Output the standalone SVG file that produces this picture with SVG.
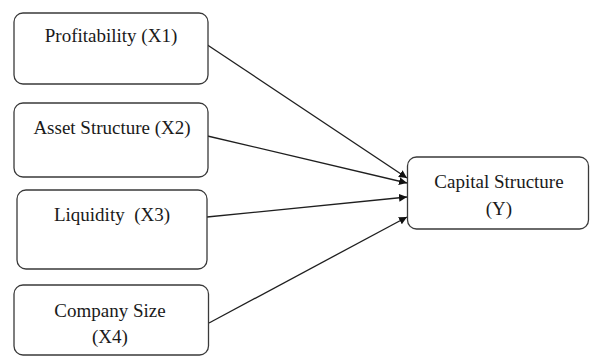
<svg xmlns="http://www.w3.org/2000/svg" width="590" height="356" viewBox="0 0 590 356">
  <style>
    .box { fill: #ffffff; stroke: #3a3a3a; stroke-width: 1.3; }
    .lbl { font-family: 'Liberation Serif', 'Times New Roman', Times, serif; font-size: 19px; fill: #1a1a1a; text-anchor: middle; }
    .link { stroke: #1f1f1f; stroke-width: 1.3; fill: none; marker-end: url(#head); }
  </style>
  <defs>
    <marker id="head" viewBox="0 0 10 10" refX="10" refY="5" markerWidth="8" markerHeight="8" markerUnits="userSpaceOnUse" orient="auto">
      <path d="M0,0 L10,5 L0,10 Z" fill="#111111"/>
    </marker>
  </defs>

  <rect width="590" height="356" fill="#ffffff"/>

  <g id="connectors">
    <line class="link" x1="207.5" y1="45" x2="407" y2="178"/>
    <line class="link" x1="207.5" y1="136" x2="407" y2="183"/>
    <line class="link" x1="207" y1="217" x2="407" y2="197"/>
    <line class="link" x1="209" y1="323" x2="407" y2="217"/>
  </g>

  <g id="profitability">
    <rect class="box" x="14" y="13" width="194" height="71" rx="9"/>
    <text class="lbl" font-family="Liberation Serif" x="111" y="42">Profitability (X1)</text>
  </g>

  <g id="asset-structure">
    <rect class="box" x="14" y="103" width="194" height="74" rx="9"/>
    <text class="lbl" x="112" y="134">Asset Structure (X2)</text>
  </g>

  <g id="liquidity">
    <rect class="box" x="17" y="190" width="190" height="79" rx="9"/>
    <text class="lbl" x="112" y="221" xml:space="preserve">Liquidity  (X3)</text>
  </g>

  <g id="company-size">
    <rect class="box" x="14" y="285" width="194.5" height="70" rx="9"/>
    <text class="lbl" x="110" y="317">Company Size</text>
    <text class="lbl" x="110" y="343">(X4)</text>
  </g>

  <g id="capital-structure">
    <rect class="box" x="407.5" y="157" width="181" height="72" rx="9"/>
    <text class="lbl" x="499" y="188">Capital Structure</text>
    <text class="lbl" x="499" y="215">(Y)</text>
  </g>
</svg>
